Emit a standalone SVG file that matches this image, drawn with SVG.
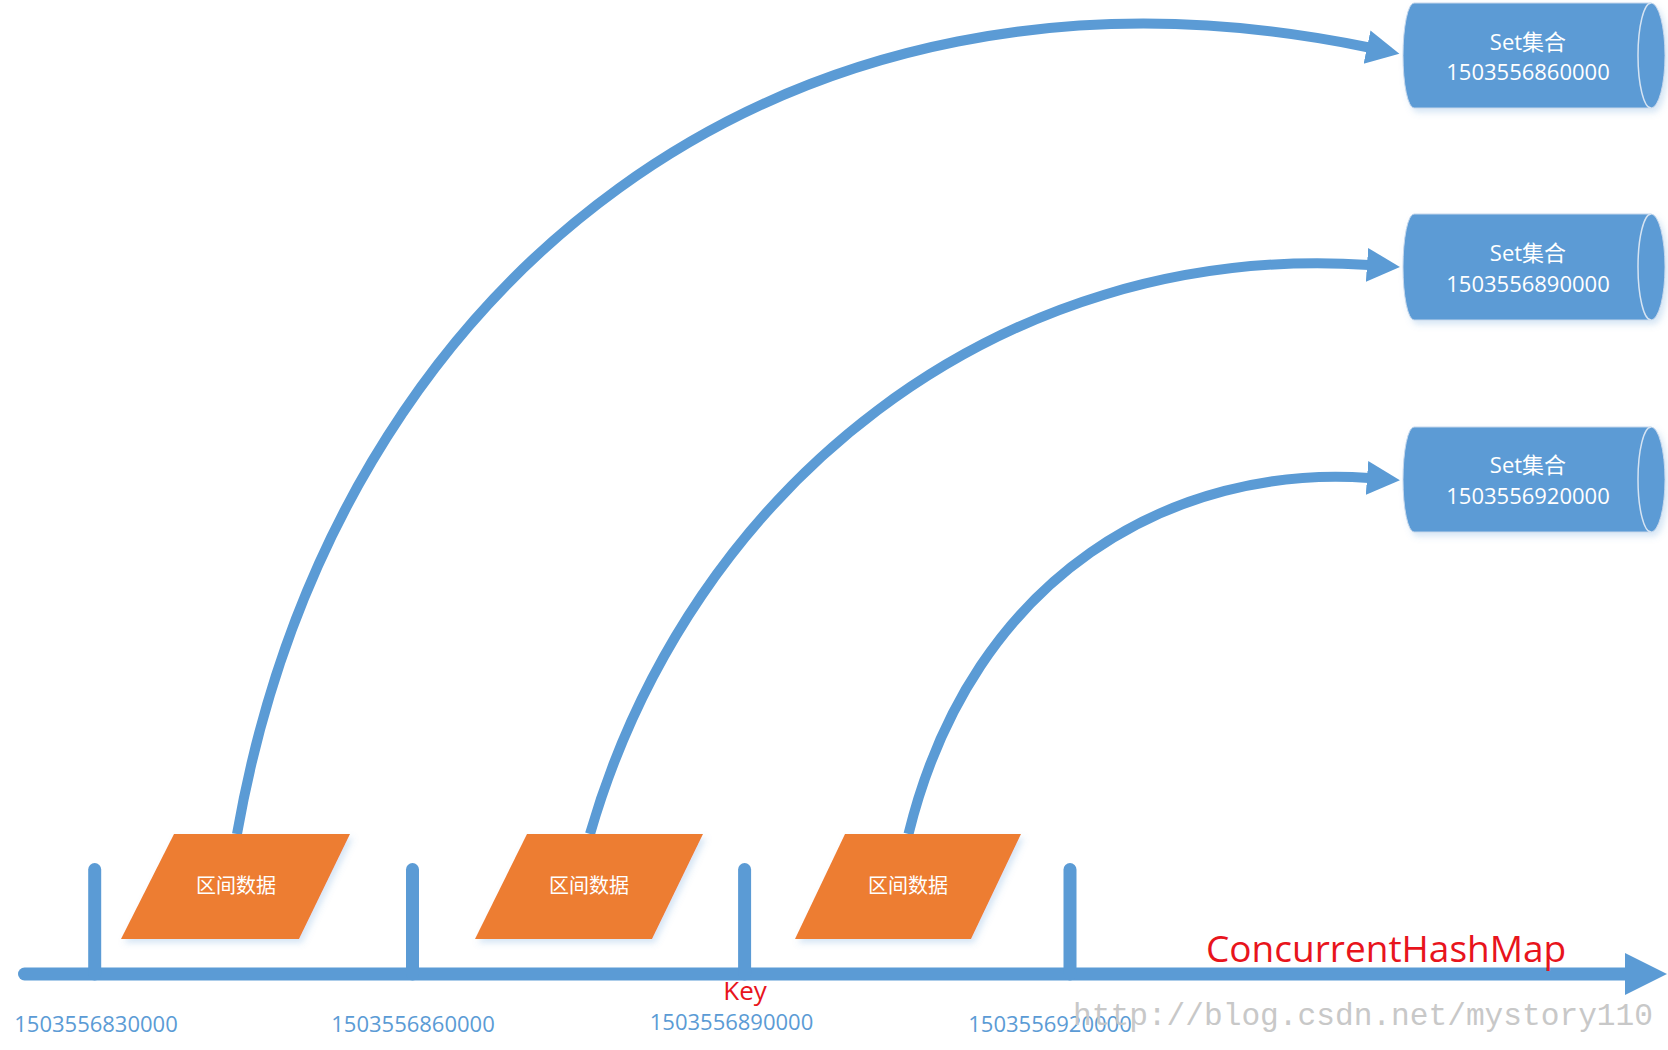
<svg xmlns="http://www.w3.org/2000/svg" width="1668" height="1050" viewBox="0 0 1668 1050">
<style>
.blue{fill:#5b9bd5}
.ln{stroke:#5b9bd5;fill:none}
.cv{stroke:#5b9bd5;stroke-width:10;fill:none}
.tick{stroke:#5b9bd5;stroke-width:13;stroke-linecap:round}
.para{fill:#ed7d31}
.cyl{fill:#5b9bd5;stroke:#c5d7ec;stroke-width:1}
.inner{fill:none;stroke:#d6e4f3;stroke-width:1.5}
.wt{fill:#ffffff;font-family:"Open Sans","Noto Sans CJK SC",sans-serif;text-anchor:middle}
.num{fill:#5b9bd5;font-family:"Open Sans","Liberation Sans",sans-serif;font-size:22px;text-anchor:middle}
.red{fill:#e8141c;font-family:"Open Sans","Liberation Sans",sans-serif}
.wm{fill:#c8c8c8;font-family:"Liberation Mono",monospace;font-size:32px}
</style>
<defs>
<filter id="sh" x="-10%" y="-10%" width="130%" height="140%">
<feDropShadow dx="3" dy="4" stdDeviation="3" flood-color="#5b9bd5" flood-opacity="0.25"/>
</filter>
<marker id="ah" markerUnits="userSpaceOnUse" markerWidth="36" markerHeight="36" viewBox="0 -18 36 36" refX="2" refY="0" orient="auto">
<path d="M0,-17 L33,0 L0,17 Z" fill="#5b9bd5"/>
</marker>
</defs>
<rect x="0" y="0" width="1668" height="1050" fill="#ffffff"/>

<g id="connectors">
<path class="cv" d="M237,834 C334,282 781,-74 1369,47.5" marker-end="url(#ah)"/>
<path class="cv" d="M590,834 C690,488 997,240 1369,265" marker-end="url(#ah)"/>
<path class="cv" d="M908.5,834 C973,572 1176,464 1369,478" marker-end="url(#ah)"/>
</g>

<g id="timeline">
<line class="ln" x1="24.5" y1="974" x2="1630" y2="974" stroke-width="13" stroke-linecap="round"/>
<polygon class="blue" points="1625,953 1667,974 1625,995"/>
<line class="tick" x1="94.7" y1="869.5" x2="94.7" y2="974"/>
<line class="tick" x1="412.5" y1="869.5" x2="412.5" y2="974"/>
<line class="tick" x1="744.6" y1="869.5" x2="744.6" y2="974"/>
<line class="tick" x1="1070" y1="869.5" x2="1070" y2="974"/>
</g>

<g id="interval1">
<polygon class="para" filter="url(#sh)" points="174,834 350,834 299,939 121,939"/>
<text class="wt" x="236" y="893" font-size="20">区间数据</text>
</g>
<g id="interval2">
<polygon class="para" filter="url(#sh)" points="527,834 703,834 652,939 475,939"/>
<text class="wt" x="589" y="893" font-size="20">区间数据</text>
</g>
<g id="interval3">
<polygon class="para" filter="url(#sh)" points="845,834 1021,834 971,939 795,939"/>
<text class="wt" x="908" y="893" font-size="20">区间数据</text>
</g>

<g id="set1">
<path class="cyl" filter="url(#sh)" d="M1414,3 L1651,3 A14,52.5 0 0 1 1651,108 L1414,108 A11,52.5 0 0 1 1414,3 Z"/>
<path class="inner" d="M1651,3 A13,52.5 0 0 0 1651,108"/>
<text class="wt" x="1528" y="50" font-size="22">Set集合</text>
<text class="wt" x="1528" y="80" font-size="22">1503556860000</text>
</g>
<g id="set2">
<path class="cyl" filter="url(#sh)" d="M1414,214 L1651,214 A14,53 0 0 1 1651,320 L1414,320 A11,53 0 0 1 1414,214 Z"/>
<path class="inner" d="M1651,214 A13,53 0 0 0 1651,320"/>
<text class="wt" x="1528" y="261" font-size="22">Set集合</text>
<text class="wt" x="1528" y="292" font-size="22">1503556890000</text>
</g>
<g id="set3">
<path class="cyl" filter="url(#sh)" d="M1414,427 L1651,427 A14,52.5 0 0 1 1651,532 L1414,532 A11,52.5 0 0 1 1414,427 Z"/>
<path class="inner" d="M1651,427 A13,52.5 0 0 0 1651,532"/>
<text class="wt" x="1528" y="473" font-size="22">Set集合</text>
<text class="wt" x="1528" y="504" font-size="22">1503556920000</text>
</g>

<g id="labels">
<text class="num" x="96" y="1032">1503556830000</text>
<text class="num" x="413" y="1032">1503556860000</text>
<text class="num" x="731.5" y="1030">1503556890000</text>
<text class="num" x="1050" y="1032">1503556920000</text>
<text class="red" x="745" y="1000" font-size="26" text-anchor="middle">Key</text>
<text class="red" x="1206" y="962" font-size="37">ConcurrentHashMap</text>
<text class="wm" x="1073" y="1025" textLength="580" lengthAdjust="spacingAndGlyphs">http://blog.csdn.net/mystory110</text>
</g>
</svg>
